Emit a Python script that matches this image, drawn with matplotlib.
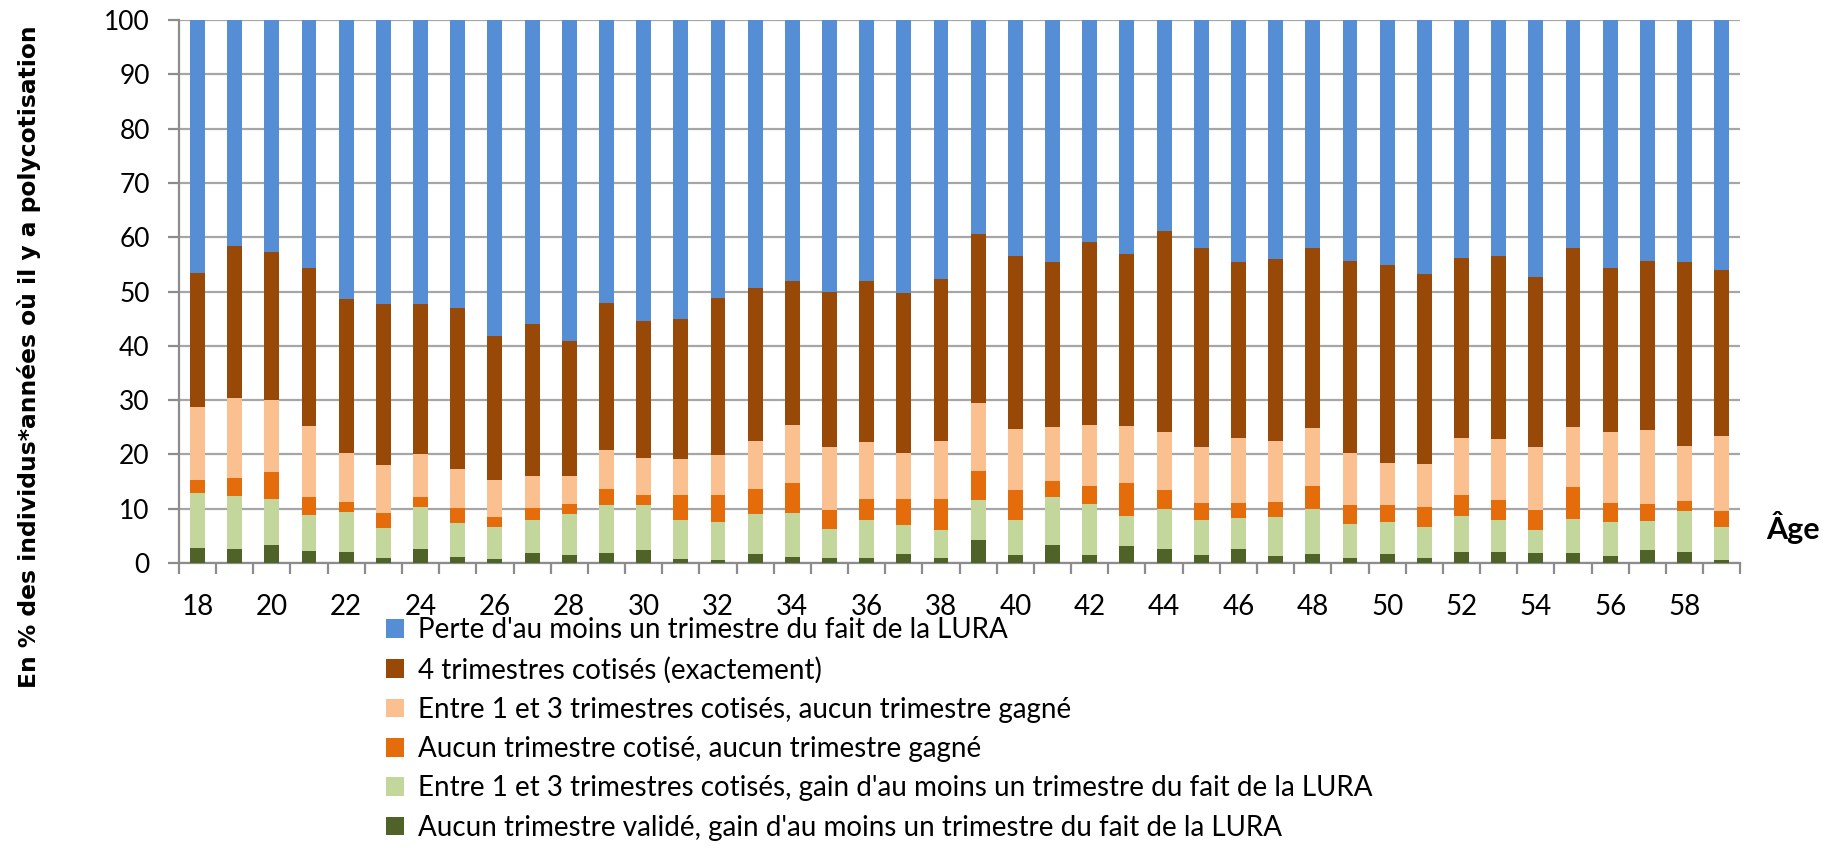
import numpy as np
import matplotlib
matplotlib.use("Agg")
import matplotlib.pyplot as plt

# ages 18 to 59
ages = list(range(18, 60))

# shares in % (bottom to top)
aucun_valide_gain = [2.8, 2.6, 3.3, 2.3, 2.1, 0.9, 2.5, 1.1, 0.7, 1.8,
                     1.4, 1.8, 2.4, 0.7, 0.5, 1.7, 1.1, 0.9, 1.0, 1.6, 0.9,
                     4.2, 1.4, 3.3, 1.5, 3.2, 2.5, 1.5, 2.5, 1.2, 1.7, 1.0,
                     1.7, 0.9, 2.0, 2.1, 1.8, 1.8, 1.2, 2.4, 2.1, 0.6]
entre_cotise_gain = [10.1, 9.8, 8.4, 6.5, 7.2, 5.5, 7.9, 6.3, 5.9, 6.1,
                     7.7, 8.8, 8.3, 7.3, 7.1, 7.4, 8.1, 5.3, 6.9, 5.4, 5.2,
                     7.4, 6.5, 8.8, 9.3, 5.5, 7.4, 6.4, 5.7, 7.2, 8.2, 6.1,
                     5.8, 5.8, 6.7, 5.8, 4.2, 6.3, 6.4, 5.4, 7.5, 6.0]
aucun_cotise = [2.3, 3.2, 5.0, 3.4, 1.9, 2.8, 1.7, 2.8, 1.8, 2.2,
                1.7, 3.0, 1.9, 4.5, 4.9, 4.5, 5.5, 3.6, 3.8, 4.7, 5.6,
                5.3, 5.5, 3.0, 3.4, 6.1, 3.5, 3.1, 2.8, 2.8, 4.3, 3.6,
                3.1, 3.6, 3.9, 3.7, 3.8, 5.9, 3.4, 3.1, 1.8, 3.0]
entre_cotise_rien = [13.5, 14.8, 13.4, 13.1, 9.0, 8.9, 7.9, 7.2, 6.8, 6.0,
                     5.3, 7.3, 6.7, 6.6, 7.3, 8.8, 10.8, 11.6, 10.6, 8.5, 10.7,
                     12.6, 11.2, 10.0, 11.3, 10.4, 10.8, 10.3, 12.1, 11.2, 10.6, 9.5,
                     7.9, 7.9, 10.5, 11.3, 11.5, 11.0, 13.1, 13.6, 10.1, 13.7]
quatre_cotises = [24.7, 27.9, 27.2, 29.1, 28.5, 29.6, 27.7, 29.6, 26.6, 27.9,
                  24.7, 27.0, 25.2, 25.8, 29.0, 28.2, 26.4, 28.6, 29.7, 29.6, 29.9,
                  31.0, 31.9, 30.4, 33.6, 31.7, 37.0, 36.8, 32.3, 33.6, 33.2, 35.4,
                  36.3, 35.0, 33.1, 33.6, 31.3, 33.0, 30.3, 31.2, 34.0, 30.6]
perte_lura = [46.6, 41.7, 42.7, 45.6, 51.3, 52.3, 52.3, 53.0, 58.2, 56.0,
              59.2, 52.1, 55.5, 55.1, 51.2, 49.4, 48.1, 50.0, 48.0, 50.2, 47.7,
              39.5, 43.5, 44.5, 40.9, 43.1, 38.8, 41.9, 44.6, 44.0, 42.0, 44.4,
              45.2, 46.8, 43.8, 43.5, 47.4, 42.0, 45.6, 44.3, 44.5, 46.1]

labels = ["Aucun trimestre validé, gain d'au moins un trimestre du fait de la LURA",
          "Entre 1 et 3 trimestres cotisés, gain d'au moins un trimestre du fait de la LURA",
          "Aucun trimestre cotisé, aucun trimestre gagné",
          "Entre 1 et 3 trimestres cotisés, aucun trimestre gagné",
          "4 trimestres cotisés (exactement)",
          "Perte d'au moins un trimestre du fait de la LURA"]
colors = ["#4F6228", "#C3D69B", "#E46C0A", "#FAC090", "#984807", "#558ED5"]
series = [aucun_valide_gain, entre_cotise_gain, aucun_cotise,
          entre_cotise_rien, quatre_cotises, perte_lura]

plt.rcParams['font.family'] = ['Lato', 'DejaVu Sans']

fig = plt.figure(figsize=(18.24, 8.56), dpi=100)
ax = fig.add_axes([0.0981, 0.3423, 0.8560, 0.6343])

x = np.arange(len(ages))
bottom = np.zeros(len(ages))
handles = []
for vals, col, lab in zip(series, colors, labels):
    vals = np.array(vals)
    b = ax.bar(x, vals, 0.4, bottom=bottom, color=col, label=lab, zorder=3)
    handles.append(b)
    bottom = bottom + vals

ax.set_xlim(-0.5, len(ages) - 0.5)
ax.set_ylim(0, 100)
ax.set_yticks(range(0, 101, 10))
ax.yaxis.grid(True, color="#a6a6a6", linewidth=1.6, zorder=0)
ax.set_axisbelow(True)

# tick marks between categories, labels every other age
ax.set_xticks(np.arange(-0.5, len(ages), 1.0))
ax.set_xticklabels([])
ax.set_xticks(x[::2], minor=True)
ax.set_xticklabels([str(a) for a in ages[::2]], minor=True)
ax.tick_params(axis="x", which="major", length=8, width=1.6, color="#8c8c8c", direction="out")
ax.tick_params(axis="x", which="minor", length=0, pad=22, labelsize=20)
ax.tick_params(axis="y", length=8, width=1.6, color="#8c8c8c", pad=13, labelsize=19)

for s in ["top", "right"]:
    ax.spines[s].set_visible(False)
for s in ["left", "bottom"]:
    ax.spines[s].set_color("#8c8c8c")
    ax.spines[s].set_linewidth(1.6)

fig.text(0.016, 0.583, "En % des individus*années où il y a polycotisation",
         rotation=90, ha="center", va="center", fontsize=16.8,
         fontweight="bold", family="DejaVu Sans")
fig.text(0.983, 0.384, "Âge", ha="center", va="center", fontsize=22, fontweight="bold")

leg = fig.legend(handles[::-1], labels[::-1], loc="upper left",
                 bbox_to_anchor=(0.2116, 0.279), frameon=False, fontsize=20,
                 handlelength=0.65, handleheight=0.65, handletextpad=0.5,
                 labelspacing=0.48, borderaxespad=0, borderpad=0)

fig.savefig("out.png", dpi=100)
